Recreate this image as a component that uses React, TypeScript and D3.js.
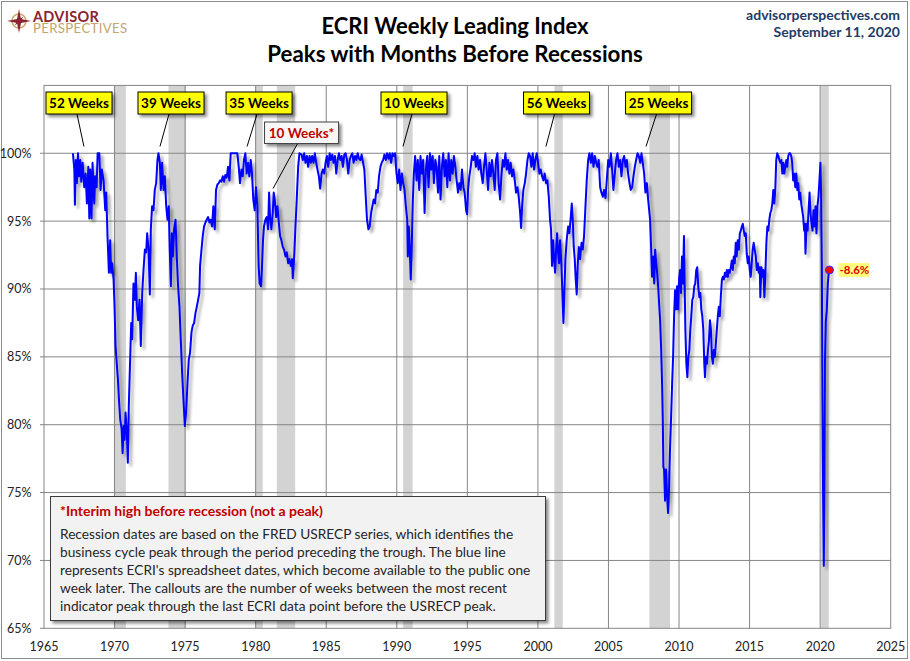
import React from "react";
import * as d3 from "d3";

type Pt = [number, number];

// ECRI WLI, % of prior peak (decimal year, percent)
const wli1967to1980: Pt[] = [
  [1967.05,100],[1967.15,98.8],[1967.19,96.2],[1967.26,99.5],[1967.33,97.8],[1967.41,100],[1967.48,98.3],[1967.57,99.5],[1967.64,97.9],[1967.74,99.3],[1967.85,97.5],[1967.95,98.5],[1968.04,96.3],[1968.14,99],[1968.21,95.2],[1968.28,98.8],[1968.37,95.2],[1968.44,99.3],[1968.56,96.3],[1968.63,98.3],[1968.73,97.5],[1968.80,100],[1968.92,100],[1969.01,97.3],[1969.10,98.8],[1969.22,98],[1969.34,95.8],[1969.41,97.1],[1969.50,93.9],[1969.60,91.2],[1969.69,93.6],[1969.76,91.2],[1969.83,91.9],[1969.93,90.7],[1970.00,88.7],[1970.07,85.8],[1970.17,84.3],[1970.24,83.3],[1970.31,81.9],[1970.40,80.4],[1970.50,79.7],[1970.57,77.9],[1970.64,79.9],[1970.71,78.9],[1970.78,80.9],[1970.87,79.4],[1970.94,77.2],[1971.01,81.4],[1971.11,85],[1971.18,87.5],[1971.25,86.3],[1971.34,90.4],[1971.44,89.2],[1971.51,91.2],[1971.58,88.7],[1971.67,87.7],[1971.77,89.2],[1971.86,85.8],[1971.96,89.7],[1972.05,91.4],[1972.15,92.9],[1972.24,92.7],[1972.31,94.1],[1972.41,92.9],[1972.50,89.6],[1972.57,94.4],[1972.66,96.1],[1972.76,95.8],[1972.85,97.3],[1972.95,97.8],[1973.04,99.5],[1973.11,100],[1973.21,99.3],[1973.28,97.3],[1973.37,99.3],[1973.47,97.3],[1973.56,98.3],[1973.66,96.1],[1973.75,95.1],[1973.84,96.1],[1973.91,92.9],[1973.99,90.2],[1974.06,94.1],[1974.13,92.4],[1974.22,94.4],[1974.32,95.1],[1974.41,92.4],[1974.50,90.2],[1974.60,88.7],[1974.69,86.3],[1974.79,83.8],[1974.88,81.9],[1974.98,79.9],[1975.07,80.9],[1975.17,83.1],[1975.26,84.8],[1975.35,85.3],[1975.45,86.8],[1975.54,87.3],[1975.64,87.5],[1975.73,88.2],[1975.83,88.7],[1975.92,89.2],[1976.01,89.7],[1976.06,91.7],[1976.16,92.9],[1976.25,93.9],[1976.34,94.6],[1976.44,94.9],[1976.53,95.1],[1976.63,95.3],[1976.72,94.9],[1976.82,95.1],[1976.91,94.6],[1977.00,96.1],[1977.10,94.4],[1977.19,97.3],[1977.29,97.7],[1977.38,97.8],[1977.48,98],[1977.57,97.9],[1977.67,98.3],[1977.76,97.9],[1977.85,98.4],[1977.95,98.2],[1978.04,99],[1978.14,98],[1978.23,100],[1978.42,100],[1978.61,100],[1978.70,100],[1978.80,99],[1978.89,97.8],[1978.99,98.8],[1979.08,98.3],[1979.17,99.5],[1979.27,100],[1979.36,98.5],[1979.46,99.3],[1979.55,98.3],[1979.65,99.5],[1979.74,98.5],[1979.83,96.6],[1979.93,95.8],[1980.02,97.5],[1980.12,96.1],
];

const wli1980to1994: Pt[] = [
  [1980.21,91.7],[1980.28,90.4],[1980.38,90.2],[1980.45,91.7],[1980.52,93.6],[1980.59,94.6],[1980.69,95.1],[1980.78,95.3],[1980.88,94.4],[1980.95,97.1],[1981.02,95.3],[1981.11,94.4],[1981.21,95.6],[1981.28,97.1],[1981.35,96.6],[1981.45,95.3],[1981.54,96.1],[1981.64,94.9],[1981.73,93.9],[1981.82,93.6],[1981.92,93.1],[1982.01,92.9],[1982.11,92.4],[1982.20,92.7],[1982.30,91.9],[1982.39,92.2],[1982.49,91.7],[1982.58,92.2],[1982.63,90.8],[1982.73,92.4],[1982.82,94.6],[1982.91,96.6],[1983.01,99],[1983.10,100],[1983.25,99.9],[1983.34,99.5],[1983.44,100],[1983.53,99.3],[1983.63,99.8],[1983.72,99],[1983.82,99.8],[1983.91,99.3],[1984.00,99.8],[1984.10,99.3],[1984.19,100],[1984.29,99.3],[1984.38,98.8],[1984.48,98.3],[1984.57,97.4],[1984.67,98.5],[1984.76,98.8],[1984.86,98.5],[1984.95,99.3],[1985.05,99.8],[1985.14,99],[1985.24,100],[1985.33,99.5],[1985.43,99.9],[1985.52,99.3],[1985.62,99.8],[1985.71,98.5],[1985.81,99.5],[1985.90,100],[1986.00,99.5],[1986.09,99.8],[1986.18,99],[1986.28,99.9],[1986.37,100],[1986.47,99.5],[1986.56,98.5],[1986.66,99.5],[1986.75,99.8],[1986.85,100],[1986.94,99.3],[1987.04,99.8],[1987.13,99.5],[1987.23,100],[1987.32,99.6],[1987.42,99.5],[1987.51,99.9],[1987.61,99.3],[1987.70,98.8],[1987.80,96.8],[1987.89,95.1],[1987.99,94.4],[1988.08,94.6],[1988.18,95.6],[1988.27,96.1],[1988.36,96.6],[1988.46,96.3],[1988.55,97.3],[1988.65,97.1],[1988.74,98.3],[1988.84,99],[1988.93,99.3],[1989.03,99.5],[1989.12,99.9],[1989.22,99.5],[1989.31,100],[1989.41,99.6],[1989.50,100],[1989.60,99.3],[1989.69,100],[1989.79,99.8],[1989.88,100],[1989.98,98.5],[1990.07,97.8],[1990.17,98.8],[1990.26,97.3],[1990.36,98.5],[1990.45,97.8],[1990.55,97.3],[1990.64,96.1],[1990.74,95.1],[1990.78,92.4],[1990.85,94.6],[1990.92,92.9],[1990.99,90.7],[1991.07,93.6],[1991.14,96.6],[1991.21,98.5],[1991.30,99.8],[1991.40,98],[1991.49,99.5],[1991.59,97.3],[1991.68,99.8],[1991.78,98.5],[1991.87,99.5],[1991.97,95.6],[1992.06,98.8],[1992.16,99.8],[1992.25,97.5],[1992.35,100],[1992.44,98.8],[1992.54,99.8],[1992.63,97.8],[1992.73,99.5],[1992.82,99],[1992.92,97.1],[1993.01,99.8],[1993.10,96.6],[1993.20,99],[1993.29,100],[1993.39,98.3],[1993.48,99.5],[1993.58,97.5],[1993.67,100],[1993.77,98],[1993.86,99.5],[1993.96,98.5],[1994.05,99.8],[1994.15,99],
];

const wli1994to2007: Pt[] = [
  [1994.24,98],[1994.34,97.1],[1994.43,97.8],[1994.53,97.3],[1994.62,98.8],[1994.72,97.5],[1994.81,97.1],[1994.91,95.8],[1994.98,95.5],[1995.05,97.3],[1995.14,98.3],[1995.24,99],[1995.33,99.8],[1995.43,99.5],[1995.52,100],[1995.61,99],[1995.71,99.8],[1995.80,98.8],[1995.90,99.5],[1995.99,98.5],[1996.09,97.8],[1996.18,99],[1996.28,100],[1996.37,98.8],[1996.47,97.3],[1996.56,99.3],[1996.65,98.3],[1996.75,99.5],[1996.84,98.5],[1996.94,97.3],[1997.03,99.5],[1997.13,100],[1997.22,97.8],[1997.32,96.6],[1997.41,98.3],[1997.51,99.5],[1997.60,99],[1997.70,100],[1997.79,98.8],[1997.88,99.5],[1997.98,98.5],[1998.07,99.3],[1998.17,98.3],[1998.26,98.8],[1998.36,98],[1998.45,97.1],[1998.55,97.5],[1998.64,96.8],[1998.74,95.6],[1998.81,94.5],[1998.88,96.1],[1998.97,97.3],[1999.07,97.8],[1999.16,98.5],[1999.26,99.5],[1999.35,100],[1999.44,99.8],[1999.54,99],[1999.63,100],[1999.73,98.8],[1999.82,99.5],[1999.92,100],[2000.01,99.3],[2000.11,98.5],[2000.20,98.8],[2000.30,98.3],[2000.39,98],[2000.48,98.5],[2000.58,97.8],[2000.67,98],[2000.77,96.8],[2000.86,95.1],[2000.93,94.4],[2001.00,91.7],[2001.08,93.6],[2001.15,92.2],[2001.22,91.2],[2001.29,92.9],[2001.36,94.1],[2001.43,92.7],[2001.50,91.9],[2001.57,93.6],[2001.67,91.7],[2001.74,89.5],[2001.81,87.5],[2001.88,90],[2001.95,92.2],[2002.04,93.6],[2002.14,94.6],[2002.23,94.1],[2002.33,95.3],[2002.40,96.3],[2002.47,95.1],[2002.54,93.1],[2002.61,92.2],[2002.68,90.7],[2002.75,89.6],[2002.82,91.7],[2002.90,93.1],[2002.99,92.2],[2003.09,93.4],[2003.18,92.9],[2003.27,93.9],[2003.37,96.1],[2003.46,98],[2003.56,99.5],[2003.65,100],[2003.75,99.3],[2003.84,100],[2003.94,99],[2004.03,99.8],[2004.13,99.3],[2004.22,99],[2004.31,99.5],[2004.41,97.5],[2004.50,97.1],[2004.60,96.8],[2004.69,97.3],[2004.79,96.7],[2004.88,98],[2004.98,99.5],[2005.07,99],[2005.17,100],[2005.26,98.8],[2005.35,97.3],[2005.45,98.5],[2005.54,99.5],[2005.64,100],[2005.73,99],[2005.83,99.5],[2005.92,98.3],[2006.02,99.5],[2006.11,99.8],[2006.21,99],[2006.30,99.5],[2006.39,98.5],[2006.49,97.8],[2006.58,97.3],[2006.68,97.5],[2006.77,98.3],[2006.87,99],[2006.96,99.5],[2007.06,100],[2007.15,99.8],[2007.25,99.3],[2007.34,100],[2007.43,99.3],[2007.53,98.5],[2007.62,97.1],[2007.72,97.8],[2007.81,96.6],
];

const wli2007to2020: Pt[] = [
  [2007.95,95.1],[2008.02,93.1],[2008.09,90.9],[2008.16,92.4],[2008.24,90.4],[2008.31,92.9],[2008.38,91.9],[2008.45,91.2],[2008.52,90.2],[2008.59,88.9],[2008.66,87.7],[2008.73,85.7],[2008.80,83],[2008.85,80.3],[2008.89,76.9],[2008.94,76.7],[2009.01,74.4],[2009.08,76.7],[2009.15,74.9],[2009.22,73.5],[2009.29,75.2],[2009.36,78.1],[2009.44,80.6],[2009.51,83],[2009.58,85],[2009.65,88],[2009.72,89.9],[2009.79,88.5],[2009.86,90.2],[2009.93,88.5],[2010.00,90.7],[2010.07,91.4],[2010.14,89.7],[2010.21,92.4],[2010.28,90.4],[2010.35,93.9],[2010.40,90.2],[2010.45,87],[2010.52,84.5],[2010.59,83.5],[2010.66,85],[2010.73,85.5],[2010.80,87],[2010.87,88],[2010.94,89.2],[2011.01,89.4],[2011.08,90.2],[2011.15,90.4],[2011.22,91.4],[2011.29,91.6],[2011.36,90.2],[2011.44,89.4],[2011.51,89.7],[2011.58,88.5],[2011.65,88],[2011.72,87],[2011.79,84.5],[2011.84,83.5],[2011.91,85],[2011.98,84.5],[2012.05,85.5],[2012.12,86.2],[2012.19,87.7],[2012.26,87],[2012.33,85],[2012.40,84.5],[2012.47,85.5],[2012.54,85],[2012.61,86],[2012.68,87],[2012.75,88],[2012.82,88.7],[2012.89,88],[2012.96,89.4],[2013.04,90.7],[2013.11,90.9],[2013.18,90.7],[2013.25,91.2],[2013.32,90.9],[2013.39,91.4],[2013.46,90.9],[2013.53,91.4],[2013.60,91.2],[2013.67,91.6],[2013.74,92.1],[2013.81,91.4],[2013.88,92.4],[2013.95,91.9],[2014.02,93.4],[2014.09,92.4],[2014.16,93.6],[2014.24,92.9],[2014.31,94.1],[2014.38,94.3],[2014.45,94.6],[2014.52,94.8],[2014.59,94.3],[2014.66,93.9],[2014.73,94.1],[2014.80,92.6],[2014.87,91.9],[2014.94,92.4],[2015.01,91.4],[2015.08,90.9],[2015.15,91.9],[2015.22,92.9],[2015.29,93.4],[2015.36,92.9],[2015.44,92.4],[2015.51,91.4],[2015.58,91.9],[2015.65,91.2],[2015.72,91.6],[2015.76,89.4],[2015.84,91.6],[2015.91,90.9],[2015.98,91.4],[2016.05,89.4],[2016.12,91.2],[2016.19,93.4],[2016.26,94.6],[2016.33,94.3],[2016.40,95.1],[2016.47,95.6],[2016.54,95.8],[2016.61,96.3],[2016.68,97.3],[2016.75,96.3],[2016.82,97.3],[2016.89,99.5],[2016.96,100],[2017.04,99.8],[2017.11,99.5],[2017.18,99.3],[2017.25,99.5],[2017.32,98.5],[2017.39,99.3],[2017.46,98.5],[2017.53,99],[2017.60,99.5],[2017.67,99],[2017.74,99.8],[2017.81,100],[2017.88,100],[2017.95,99.8],[2018.02,99.3],[2018.09,98],[2018.16,98.5],[2018.24,97.5],[2018.31,98.5],[2018.38,97.3],[2018.45,97.8],[2018.52,96.6],[2018.59,97.1],[2018.66,96.3],[2018.73,95.8],[2018.80,95.3],[2018.87,94.3],[2018.92,94.8],[2018.96,92.6],[2019.04,94.8],[2019.11,94.3],[2019.18,95.8],[2019.25,97.1],[2019.32,95.6],[2019.39,94.8],[2019.46,94.3],[2019.53,95.8],[2019.60,94.6],[2019.67,96.1],[2019.74,94.1],[2019.81,96.1],[2019.88,96.8],[2019.95,98],[2020.02,99.3],[2020.07,96.8],[2020.12,91.9],[2020.16,82.1],[2020.21,74.7],[2020.26,69.6],[2020.30,75],[2020.34,84.5],[2020.40,87.6],[2020.47,88.4],[2020.54,90.3],[2020.61,91.2],[2020.66,91.4],
];

// Recessions (USRECP, peak through period preceding trough)
const recessionStart = [1969.95, 1973.82, 1979.95, 1981.5, 1990.45, 2001.17, 2007.9, 2020.05];
const recessionEnd = [1970.8, 1975.05, 1980.5, 1982.8, 1991.12, 2001.76, 2009.36, 2020.61];

const yTicks = [65, 70, 75, 80, 85, 90, 95, 100];
const yGrid = [70, 75, 80, 85, 90, 95, 100];
const xTicks = [1965, 1970, 1975, 1980, 1985, 1990, 1995, 2000, 2005, 2010, 2015, 2020, 2025];

const calloutLabels = ["52 Weeks", "39 Weeks", "35 Weeks", "10 Weeks", "56 Weeks", "25 Weeks"];
const calloutBoxYear = [1967.48, 1974.0, 1980.24, 1991.22, 2001.32, 2008.55];
const calloutPeakYear = [1967.83, 1973.22, 1979.39, 1990.44, 2000.57, 2007.66];
const calloutPeakValue = 100.5;

const interimLabel = "10 Weeks*";
const interimBoxYear = 1983.25;
const interimYear = 1981.23;
const interimValue = 97.4;

const lastLabel = "-8.6%";

const titleLines = ["ECRI Weekly Leading Index", "Peaks with Months Before Recessions"];
const noteTitle = "*Interim high before recession (not a peak)";
const noteLines = [
  "Recession dates are based on the FRED USRECP series, which identifies the",
  "business cycle peak through the period preceding the trough. The blue line",
  "represents ECRI's spreadsheet dates, which become available to the public one",
  "week later. The callouts are the number of weeks between the most recent",
  "indicator peak through the last ECRI data point before the USRECP peak.",
];

const W = 910;
const H = 661;
const FONT = "Lato, 'Noto Sans', sans-serif";

export default function App() {
  const data: Pt[] = [...wli1967to1980, ...wli1980to1994, ...wli1994to2007, ...wli2007to2020];
  const x = d3.scaleLinear().domain([1965, 2025]).range([44, 890.7]);
  const y = d3.scaleLinear().domain([65, 105]).range([628.3, 85.4]);
  const line = d3
    .line<Pt>()
    .x((d) => x(d[0]))
    .y((d) => y(d[1]));
  const last = data[data.length - 1];
  const boxW = 66;
  const boxH = 22;
  const boxTop = 92;

  return (
    <div style={{ position: "absolute", left: 0, top: 0 }}>
      <svg width={W} height={H} style={{ display: "block", fontFamily: FONT }}>
        <defs>
          <filter id="lineShadow" filterUnits="userSpaceOnUse" x="0" y="0" width={W} height={H}>
            <feGaussianBlur in="SourceAlpha" stdDeviation="1.4" />
            <feOffset dx="3" dy="3" result="ob" />
            <feComponentTransfer>
              <feFuncA type="linear" slope="0.35" />
            </feComponentTransfer>
            <feMerge>
              <feMergeNode />
              <feMergeNode in="SourceGraphic" />
            </feMerge>
          </filter>
          <filter id="boxShadow" x="-20%" y="-30%" width="150%" height="180%">
            <feDropShadow dx="2.5" dy="2.5" stdDeviation="1.5" floodColor="#000" floodOpacity="0.45" />
          </filter>
        </defs>
        <rect x={0} y={0} width={W} height={H} fill="#fff" />
        <rect x={1.5} y={1.5} width={906} height={657} fill="none" stroke="#8c8c8c" strokeWidth={1} />

        {/* logo */}
        <g>
          <circle cx={19} cy={21} r={7} fill="none" stroke="#c9a96e" strokeWidth={1.6} />
          <polygon
            points="19,9 21,19 31,21 21,23 19,33 17,23 7,21 17,19"
            fill="#8b2330"
          />
          <polygon points="19,15 20.5,21 19,27 17.5,21" fill="#8b2330" transform="rotate(45 19 21)" />
          <text x={33} y={21.5}>
            <tspan x={33} y={21.5} fontSize={14.5} fontWeight={700} fill="#8b2330" letterSpacing={0.3}>ADVISOR</tspan>
            <tspan x={33} y={33} fontSize={13.2} fill="#c4a56c" letterSpacing={0.35}>PERSPECTIVES</tspan>
          </text>
        </g>

        {/* titles */}
        <text x={455} y={34} textAnchor="middle" fontSize={22} fontWeight={700} fill="#000">{titleLines[0]}</text>
        <text x={455} y={62} textAnchor="middle" fontSize={22.3} fontWeight={700} fill="#000">{titleLines[1]}</text>
        <text x={900} y={20} textAnchor="end" fontSize={14} fontWeight={700} fill="#1f3c66">advisorperspectives.com</text>
        <text x={900} y={37} textAnchor="end" fontSize={14} fontWeight={700} fill="#1f3c66">September 11, 2020</text>

        {/* recession shading */}
        {recessionStart.map((s, i) => (
          <rect key={"r" + i} x={x(s)} y={y(105)} width={x(recessionEnd[i]) - x(s)} height={y(65) - y(105)} fill="#d3d3d3" />
        ))}

        {/* gridlines */}
        {yGrid.map((v) => (
          <line key={"hy" + v} x1={40} x2={x(2025)} y1={y(v)} y2={y(v)} stroke="#868686" strokeWidth={1} />
        ))}
        <line x1={40} x2={44} y1={y(65)} y2={y(65)} stroke="#868686" />
        {xTicks.slice(1, -1).map((t) => (
          <line key={"vx" + t} x1={x(t)} x2={x(t)} y1={y(105)} y2={y(65)} stroke="#868686" strokeWidth={1} />
        ))}
        <rect x={x(1965)} y={y(105)} width={x(2025) - x(1965)} height={y(65) - y(105)} fill="none" stroke="#868686" strokeWidth={1} />

        {/* axis labels */}
        {yTicks.map((v) => (
          <text key={"yl" + v} x={31.5} y={y(v) + 4.5} textAnchor="end" fontSize={12.5} fill="#222">{v + "%"}</text>
        ))}
        {xTicks.map((t) => (
          <text key={"xl" + t} x={x(t)} y={651} textAnchor="middle" fontSize={12.5} fill="#222">{t}</text>
        ))}

        {/* data line */}
        <path d={line(data) || ""} fill="none" stroke="#0000ff" strokeWidth={2} strokeLinejoin="round" filter="url(#lineShadow)" />

        {/* callouts */}
        {calloutLabels.map((lab, i) => {
          const cx = x(calloutBoxYear[i]);
          return (
            <g key={"c" + i}>
              <line x1={cx - 2} y1={boxTop + boxH} x2={x(calloutPeakYear[i])} y2={y(calloutPeakValue)} stroke="#000" strokeWidth={1} />
              <rect x={cx - boxW / 2} y={boxTop} width={boxW} height={boxH} fill="#ffff00" stroke="#000" strokeWidth={1} filter="url(#boxShadow)" />
              <text x={cx} y={boxTop + 16} textAnchor="middle" fontSize={13.5} fontWeight={700} fill="#000">{lab}</text>
            </g>
          );
        })}
        <g>
          <line x1={x(interimBoxYear) - 4} y1={143.5} x2={x(interimYear)} y2={y(interimValue)} stroke="#000" strokeWidth={1} />
          <rect x={x(interimBoxYear) - 37} y={122} width={74} height={21.5} fill="#f7f7f7" stroke="#444" strokeWidth={1} filter="url(#boxShadow)" />
          <text x={x(interimBoxYear)} y={138} textAnchor="middle" fontSize={13.5} fontWeight={700} fill="#c00000">{interimLabel}</text>
        </g>

        {/* last point */}
        <circle cx={x(last[0])} cy={y(last[1])} r={4} fill="#ff0000" stroke="#3030ff" strokeWidth={1} />
        <rect x={x(last[0]) + 9} y={y(last[1]) - 7} width={31} height={14} fill="#ffff66" opacity={0.85} />
        <text x={x(last[0]) + 10} y={y(last[1]) + 4} fontSize={11.5} fontWeight={700} fill="#e00000">{lastLabel}</text>

        {/* note box */}
        <g>
          <rect x={50.5} y={496.5} width={495} height={124} fill="#f2f2f2" stroke="#3a3a3a" strokeWidth={1} filter="url(#boxShadow)" />
          <text x={60} y={516} fontSize={14} fontWeight={700} fill="#c00000">{noteTitle}</text>
          {noteLines.map((t, i) => (
            <text key={"n" + i} x={60} y={539 + i * 18} fontSize={13.7} fill="#262626">{t}</text>
          ))}
        </g>
      </svg>
    </div>
  );
}
